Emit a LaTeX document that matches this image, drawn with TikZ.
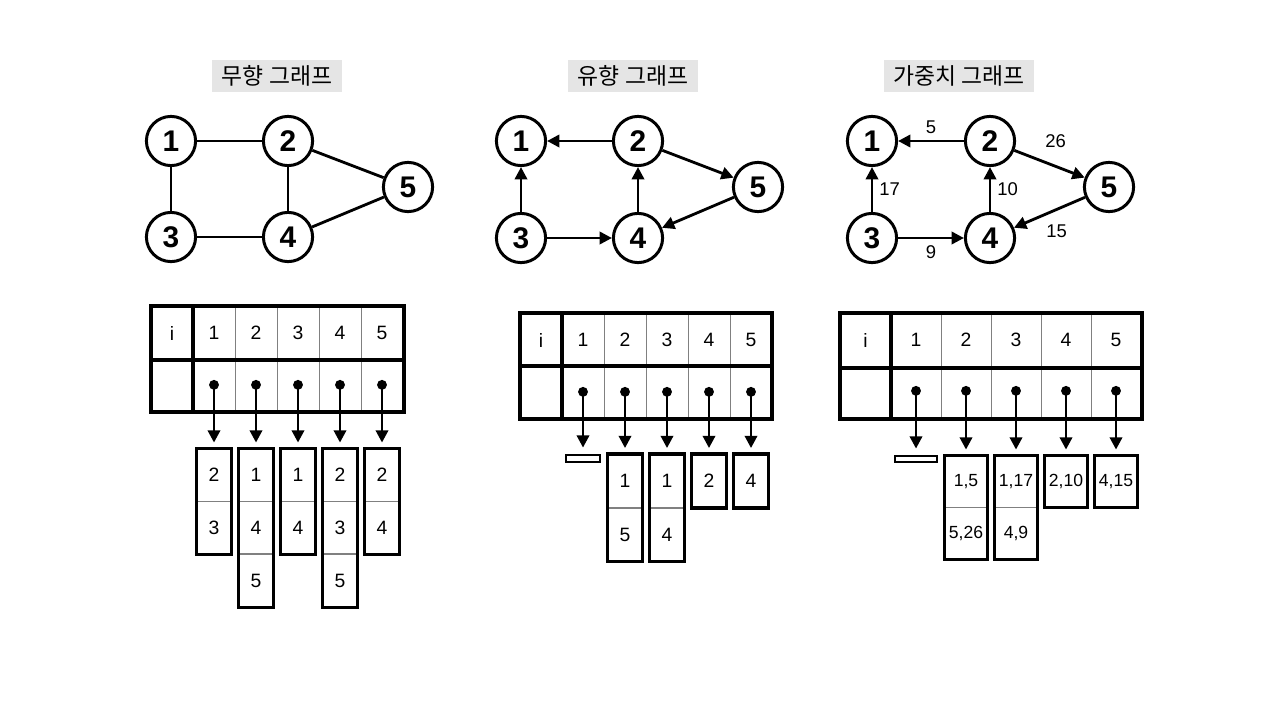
\documentclass[tikz,border=0pt]{standalone}
\usepackage{fontspec}
\setmainfont{Liberation Sans}
\newfontfamily\krfont{Noto Sans CJK KR}
\usetikzlibrary{arrows.meta, positioning}

\begin{document}
\begin{tikzpicture}[
	x=0.02cm, y=-0.02cm,
	vertex/.style={shape=circle, draw=black, line width=1.7pt, minimum size=28pt, inner sep=0pt, font=\fontsize{17}{17}\selectfont\bfseries},
	titlebox/.style={fill=gray!20, inner xsep=5.5pt, inner ysep=3.2pt, font=\krfont\fontsize{13}{15}\selectfont},
	link/.style={line width=1.6pt},
	diredge/.style={line width=1.6pt, -{Triangle[length=7pt, width=7pt]}},
	wlabel/.style={font=\fontsize{10.5}{12}\selectfont},
	tabtext/.style={font=\fontsize{11}{13}\selectfont},
	tabframe/.style={line width=1.8pt},
	divider/.style={line width=0.5pt, draw=gray},
	pointer/.style={line width=1.6pt, {Circle[length=5.5pt]}-{Triangle[length=7pt, width=7pt]}, shorten >=0.12cm},
	listcell/.style={draw=gray, line width=0.5pt, inner sep=0pt, font=\fontsize{11}{13}\selectfont},
	emptylist/.style={draw=black, line width=1.6pt, fill=white, inner sep=0pt},
]
\useasboundingbox (0,0) rectangle (1280,720);

% undirected graph
\node[titlebox] (ta) at (277,76) {무향 그래프};
\node[vertex] (a1) at (171,141) {1};
\node[vertex] (a2) at (288,141) {2};
\node[vertex] (a3) at (171,237) {3};
\node[vertex] (a4) at (288,237) {4};
\node[vertex] (a5) at (408,187) {5};
\draw[link] (a1) -- (a2);
\draw[link] (a1) -- (a3);
\draw[link] (a2) -- (a4);
\draw[link] (a3) -- (a4);
\draw[link] (a2) -- (a5);
\draw[link] (a4) -- (a5);

\foreach \x in {235,277,319,361} \draw[divider] (\x,306) -- (\x,412);
\draw[tabframe] (151,306) rectangle (404,412);
\draw[tabframe] (151,360) -- (404,360);
\draw[tabframe] (193,306) -- (193,412);
\node[tabtext] (ai) at (172,333) {i};
\foreach \k/\x in {1/214,2/256,3/298,4/340,5/382} {
	\node[tabtext] (ah\k) at (\x,333) {\k};
	\coordinate (ap\k) at (\x,380);
}
\begin{scope}[every node/.append style={listcell, minimum width=0.68cm, minimum height=1.04cm}]
	\node (al1a) at (214,475) {2};
	\node[below=0pt of al1a] (al1b) {3};
	\node (al2a) at (256,475) {1};
	\node[below=0pt of al2a] (al2b) {4};
	\node[below=0pt of al2b] (al2c) {5};
	\node (al3a) at (298,475) {1};
	\node[below=0pt of al3a] (al3b) {4};
	\node (al4a) at (340,475) {2};
	\node[below=0pt of al4a] (al4b) {3};
	\node[below=0pt of al4b] (al4c) {5};
	\node (al5a) at (382,475) {2};
	\node[below=0pt of al5a] (al5b) {4};
\end{scope}
\draw[tabframe] (al1a.north west) rectangle (al1b.south east);
\draw[tabframe] (al2a.north west) rectangle (al2c.south east);
\draw[tabframe] (al3a.north west) rectangle (al3b.south east);
\draw[tabframe] (al4a.north west) rectangle (al4c.south east);
\draw[tabframe] (al5a.north west) rectangle (al5b.south east);
\foreach \k in {1,...,5} \draw[pointer] (ap\k) -- (al\k a.north);

% directed graph
\node[titlebox] (tb) at (633,76) {유향 그래프};
\node[vertex] (b1) at (521,141) {1};
\node[vertex] (b2) at (638,141) {2};
\node[vertex] (b3) at (521,238) {3};
\node[vertex] (b4) at (638,238) {4};
\node[vertex] (b5) at (758,187) {5};
\draw[diredge] (b2) -- (b1);
\draw[diredge] (b3) -- (b1);
\draw[diredge] (b3) -- (b4);
\draw[diredge] (b4) -- (b2);
\draw[diredge] (b2) -- (b5);
\draw[diredge] (b5) -- (b4);

\foreach \x in {604,646,688,730} \draw[divider] (\x,313) -- (\x,419);
\draw[tabframe] (520,313) rectangle (772,419);
\draw[tabframe] (520,366) -- (772,366);
\draw[tabframe] (562,313) -- (562,419);
\node[tabtext] (bi) at (541,340) {i};
\foreach \k/\x in {1/583,2/625,3/667,4/709,5/751} {
	\node[tabtext] (bh\k) at (\x,340) {\k};
	\coordinate (bp\k) at (\x,387);
}
\node[emptylist, minimum width=0.68cm, minimum height=0.14cm] (bl1a) at (583,458.5) {};
\begin{scope}[every node/.append style={listcell, minimum width=0.68cm, minimum height=1.06cm}]
	\node (bl2a) at (625,481) {1};
	\node[below=0pt of bl2a] (bl2b) {5};
	\node (bl3a) at (667,481) {1};
	\node[below=0pt of bl3a] (bl3b) {4};
	\node (bl4a) at (709,481) {2};
	\node (bl5a) at (751,481) {4};
\end{scope}
\draw[tabframe] (bl2a.north west) rectangle (bl2b.south east);
\draw[tabframe] (bl3a.north west) rectangle (bl3b.south east);
\draw[tabframe] (bl4a.north west) rectangle (bl4a.south east);
\draw[tabframe] (bl5a.north west) rectangle (bl5a.south east);
\foreach \k in {1,...,5} \draw[pointer] (bp\k) -- (bl\k a.north);

% weighted graph
\node[titlebox] (tc) at (959,76) {가중치 그래프};
\node[vertex] (c1) at (872,141) {1};
\node[vertex] (c2) at (990,141) {2};
\node[vertex] (c3) at (872,238) {3};
\node[vertex] (c4) at (990,238) {4};
\node[vertex] (c5) at (1109,187) {5};
\draw[diredge] (c2) -- node[wlabel, above] {5} (c1);
\draw[diredge] (c3) -- node[wlabel, right] {17} (c1);
\draw[diredge] (c3) -- node[wlabel, below] {9} (c4);
\draw[diredge] (c4) -- node[wlabel, right] {10} (c2);
\draw[diredge] (c2) -- node[wlabel, above, xshift=3.5pt, yshift=5pt] {26} (c5);
\draw[diredge] (c5) -- node[wlabel, below, xshift=4pt, yshift=-3pt] {15} (c4);

\foreach \x in {941,991,1041,1091} \draw[divider] (\x,313) -- (\x,419);
\draw[tabframe] (840,313) rectangle (1142,419);
\draw[tabframe] (840,368) -- (1142,368);
\draw[tabframe] (891,313) -- (891,419);
\node[tabtext] (ci) at (865.5,340) {i};
\foreach \k/\x in {1/916,2/966,3/1016,4/1066,5/1116} {
	\node[tabtext] (ch\k) at (\x,340) {\k};
	\coordinate (cp\k) at (\x,386);
}
\node[emptylist, minimum width=0.84cm, minimum height=0.12cm] (cl1a) at (916,459) {};
\begin{scope}[every node/.append style={listcell, minimum width=0.84cm, minimum height=1.02cm, font=\fontsize{10}{12}\selectfont}]
	\node (cl2a) at (966,481.5) {1,5};
	\node[below=0pt of cl2a] (cl2b) {5,26};
	\node (cl3a) at (1016,481.5) {1,17};
	\node[below=0pt of cl3a] (cl3b) {4,9};
	\node (cl4a) at (1066,481.5) {2,10};
	\node (cl5a) at (1116,481.5) {4,15};
\end{scope}
\draw[tabframe] (cl2a.north west) rectangle (cl2b.south east);
\draw[tabframe] (cl3a.north west) rectangle (cl3b.south east);
\draw[tabframe] (cl4a.north west) rectangle (cl4a.south east);
\draw[tabframe] (cl5a.north west) rectangle (cl5a.south east);
\foreach \k in {1,...,5} \draw[pointer] (cp\k) -- (cl\k a.north);
\end{tikzpicture}
\end{document}
